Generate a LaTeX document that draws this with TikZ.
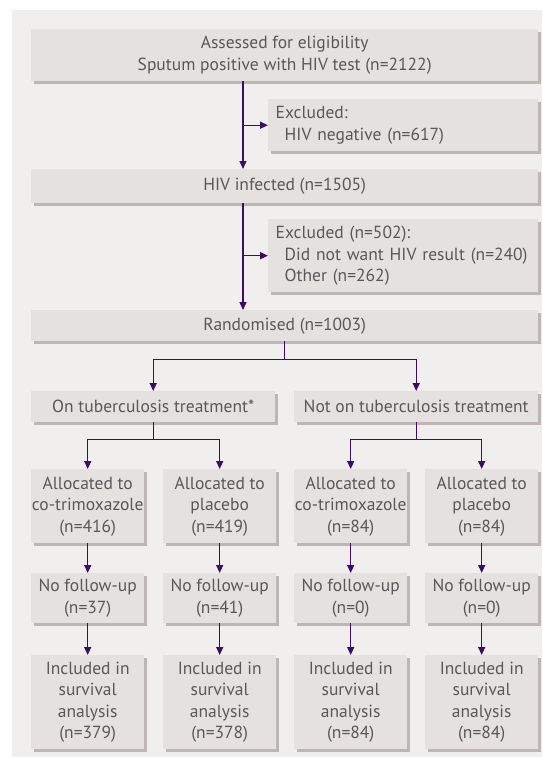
\documentclass[tikz,border=0pt]{standalone}
\usepackage{fontspec}
\setmainfont{PT Sans}
\usetikzlibrary{arrows.meta,shadows}

\definecolor{panel}{HTML}{F0EFEE}
\definecolor{boxfill}{HTML}{E5E1DE}
\definecolor{boxshadow}{HTML}{BDB6B2}
\definecolor{textgray}{HTML}{58585A}
\definecolor{arrowpurple}{HTML}{3A0C6E}

\tikzset{
    flowbox/.style 2 args={rectangle, anchor=north west, fill=boxfill, text=textgray,
        inner xsep=0pt, inner ysep=0pt, align=center, minimum width=#1, minimum height=#2,
        font=\fontsize{17.5}{21.5}\selectfont,
        drop shadow={shadow xshift=3pt, shadow yshift=-3pt, fill=boxshadow, opacity=1}},
    exclbox/.style={flowbox={270pt}{#1}, inner xsep=7.5pt, text width=255pt, align=left},
    flow/.style={->, >={Triangle[length=8pt,width=7pt]}, arrowpurple, line width=1.4pt}
}

\begin{document}
\begin{tikzpicture}[x=1pt,y=-1pt]
    \useasboundingbox (0,0) rectangle (542,758);
    \fill[panel] (12,10) rectangle (542,757);

    % top of the chart
    \node[flowbox={507pt}{52pt}] (assess) at (31,29)
        {Assessed for eligibility\\Sputum positive with HIV test (n=2122)};
    \node[exclbox=52pt] (excl1) at (268,99)
        {Excluded:\\\hspace*{9pt}HIV negative (n=617)};
    \node[flowbox={507pt}{34pt}] (hiv) at (31,169) {HIV infected (n=1505)};
    \node[exclbox=73pt] (excl2) at (268,219)
        {Excluded (n=502):\\\hspace*{9pt}Did not want HIV result (n=240)\\\hspace*{9pt}Other (n=262)};
    \node[flowbox={507pt}{31pt}] (rand) at (31,310) {Randomised (n=1003)};

    % two strata
    \node[flowbox={244pt}{31pt}] (ontb) at (31,391) {On tuberculosis treatment*};
    \node[flowbox={244pt}{31pt}] (notb) at (294,391) {Not on tuberculosis treatment};

    % allocation
    \node[flowbox={113pt}{74pt}] (allocA) at (31,469) {Allocated to\\co-trimoxazole\\(n=416)};
    \node[flowbox={113pt}{74pt}] (allocB) at (163,469) {Allocated to\\placebo\\(n=419)};
    \node[flowbox={113pt}{74pt}] (allocC) at (294,469) {Allocated to\\co-trimoxazole\\(n=84)};
    \node[flowbox={113pt}{74pt}] (allocD) at (425,469) {Allocated to\\placebo\\(n=84)};

    \node[flowbox={113pt}{50pt}] (nofuA) at (31,573) {No follow-up\\(n=37)};
    \node[flowbox={113pt}{50pt}] (nofuB) at (163,573) {No follow-up\\(n=41)};
    \node[flowbox={113pt}{50pt}] (nofuC) at (294,573) {No follow-up\\(n=0)};
    \node[flowbox={113pt}{50pt}] (nofuD) at (425,573) {No follow-up\\(n=0)};

    \node[flowbox={113pt}{94pt}] (inclA) at (31,655) {Included in\\survival\\analysis\\(n=379)};
    \node[flowbox={113pt}{94pt}] (inclB) at (163,655) {Included in\\survival\\analysis\\(n=378)};
    \node[flowbox={113pt}{94pt}] (inclC) at (294,655) {Included in\\survival\\analysis\\(n=84)};
    \node[flowbox={113pt}{94pt}] (inclD) at (425,655) {Included in\\survival\\analysis\\(n=84)};

    % connectors
    \coordinate (trunk) at (243,0);
    \draw[flow] (assess.south -| trunk) -- (hiv.north -| trunk);
    \draw[flow] (trunk |- excl1.west) -- (excl1.west);
    \draw[flow] (hiv.south -| trunk) -- (rand.north -| trunk);
    \draw[flow] (trunk |- excl2.west) -- (excl2.west);

    \draw[flow] (rand.south) -- ++(0,18) -| (ontb.north);
    \draw[flow] (rand.south) -- ++(0,18) -| (notb.north);
    \draw[flow] (ontb.south) -- ++(0,17) -| (allocA.north);
    \draw[flow] (ontb.south) -- ++(0,17) -| (allocB.north);
    \draw[flow] (notb.south) -- ++(0,17) -| (allocC.north);
    \draw[flow] (notb.south) -- ++(0,17) -| (allocD.north);

    \draw[flow] (allocA) -- (nofuA);
    \draw[flow] (allocB) -- (nofuB);
    \draw[flow] (allocC) -- (nofuC);
    \draw[flow] (allocD) -- (nofuD);
    \draw[flow] (nofuA) -- (inclA);
    \draw[flow] (nofuB) -- (inclB);
    \draw[flow] (nofuC) -- (inclC);
    \draw[flow] (nofuD) -- (inclD);
\end{tikzpicture}
\end{document}
